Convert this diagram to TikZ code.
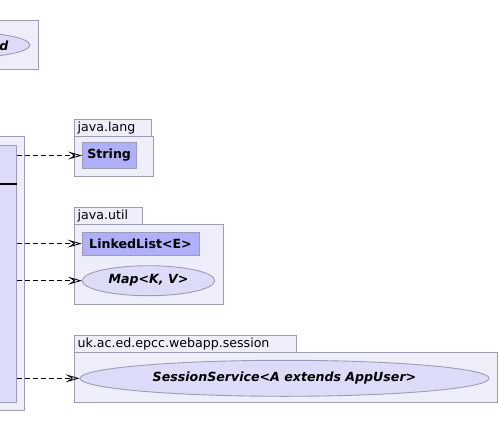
\documentclass[tikz,border=0pt]{standalone}
\usepackage{fontspec}
\setmainfont{DejaVu Sans}
\usetikzlibrary{arrows.meta,shapes.geometric}
\definecolor{pkgfill}{HTML}{EEEEFA}
\definecolor{clsfill}{HTML}{DCDCF8}
\definecolor{hlfill}{HTML}{B0B0F8}
\definecolor{bordercol}{HTML}{9C9CB4}
\newcommand\diagsz{\fontsize{12.6}{14.8}\selectfont}
\tikzset{
  x=1pt, y=-1pt,
  pkgbox/.style={draw=bordercol, fill=pkgfill, line width=0.9pt, inner sep=0pt, anchor=north west},
  clsbox/.style={draw=bordercol, fill=clsfill, line width=0.9pt, inner sep=0pt, anchor=north west},
  hlbox/.style={draw=bordercol, fill=hlfill, line width=0.9pt, font=\diagsz\bfseries, inner sep=0pt},
  iface/.style={ellipse, draw=bordercol, fill=clsfill, line width=0.9pt, font=\diagsz\bfseries\itshape, inner sep=0pt},
  tablabel/.style={anchor=west, inner sep=0pt, font=\diagsz},
  dep/.style={draw=black, line width=0.75pt, dash pattern=on 5pt off 3pt,
    -{Stealth[open,length=14pt,width=8pt,inset=6pt,sep=0pt,line width=0.8pt]}},
}
\begin{document}
\begin{tikzpicture}
\useasboundingbox (0,0) rectangle (499,448);
\clip (0,0) rectangle (499,448);

% top-left package (partly off picture)
\node[pkgbox, minimum width=58pt, minimum height=49pt] (topbody) at (-20,20) {};
\node[iface, minimum width=170pt, minimum height=28pt] (topif) at (-55,45) {};
\node[anchor=east, inner sep=0pt, font=\diagsz\bfseries\itshape] (toptext) at (8.5,45.5) {d};

% left package with class (partly off picture)
\node[pkgbox, minimum width=44pt, minimum height=274pt] (leftbody) at (-20,136) {};
\node[clsbox, minimum width=36.3pt, minimum height=256.7pt] (cls) at (-20,145.3) {};
\draw[line width=2pt] (cls.west |- 0,183.7) -- (cls.east |- 0,183.7);

% java.lang
\node[pkgbox, minimum width=76.7pt, minimum height=16.7pt] (langtab) at (74,119.3) {};
\node[tablabel] (langlabel) at (77.5,128.3) {java.lang};
\node[pkgbox, minimum width=79pt, minimum height=40pt] (langbody) at (74,136) {};
\node[hlbox, minimum width=53.7pt, minimum height=26.4pt] (str) at (109.2,155.5) {String};

% java.util
\node[pkgbox, minimum width=67.7pt, minimum height=17.6pt] (utiltab) at (74,206.7) {};
\node[tablabel] (utillabel) at (77.5,215.8) {java.util};
\node[pkgbox, minimum width=148.7pt, minimum height=79.7pt] (utilbody) at (74,224.3) {};
\node[hlbox, minimum width=117pt, minimum height=22.7pt] (ll) at (140.5,243.6) {LinkedList<E>};
\node[iface, minimum width=132.4pt, minimum height=30pt] (map) at (148.5,280.7) {Map<K, V>};

% uk.ac.ed.epcc.webapp.session
\node[pkgbox, minimum width=221.7pt, minimum height=17.3pt] (sesstab) at (74,335) {};
\node[tablabel] (sesslabel) at (77.5,344.3) {uk.ac.ed.epcc.webapp.session};
\node[pkgbox, minimum width=423pt, minimum height=50pt] (sessbody) at (74,352.3) {};
\node[iface, minimum width=409pt, minimum height=36pt] (sess) at (284.5,378.3) {SessionService<A extends AppUser>};

% dependencies
\draw[dep] (cls.east |- str.west) -- (str.west);
\draw[dep] (cls.east |- ll.west) -- (ll.west);
\draw[dep] (cls.east |- map.west) -- (map.west);
\draw[dep] (cls.east |- sess.west) -- (sess.west);
\end{tikzpicture}
\end{document}
